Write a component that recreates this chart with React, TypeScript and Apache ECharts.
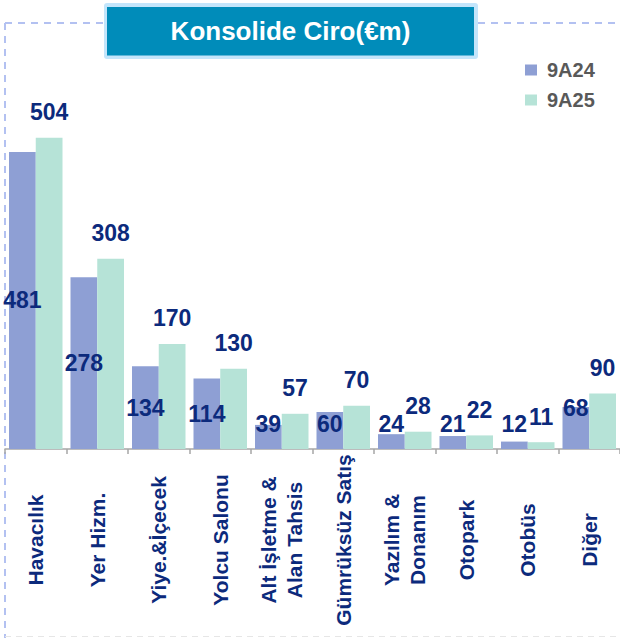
import React, { useEffect, useRef } from "react";
import * as echarts from "echarts";

const categories = [
  "Havacılık",
  "Yer Hizm.",
  "Yiye.&İçecek",
  "Yolcu Salonu",
  "Alt İşletme &\nAlan Tahsis",
  "Gümrüksüz Satış",
  "Yazılım &\nDonanım",
  "Otopark",
  "Otobüs",
  "Diğer",
];
const seriesNames = ["9A24", "9A25"];
const values9A24 = [481, 278, 134, 114, 39, 60, 24, 21, 12, 68];
const values9A25 = [504, 308, 170, 130, 57, 70, 28, 22, 11, 90];
const titleText = "Konsolide Ciro(€m)";

const raisedLabelCategories = ["Diğer"];

const NAVY = "#0c2a7c";
const BLUE = "#8e9fd4";
const GREEN = "#b6e3d7";
const FONT = "'Liberation Sans', Arial, sans-serif";

export default function App() {
  const ref = useRef<HTMLDivElement>(null);

  useEffect(() => {
    if (!ref.current) return;
    const chart = echarts.init(ref.current, undefined, { renderer: "svg" });
    const yMax = 600;
    const gridTop = 78.4;
    const gridBottom = 189;
    const plotH = 638 - gridTop - gridBottom;
    const pxPerUnit = plotH / yMax;

    const blueData = values9A24.map((v, i) => {
      const cat = categories[i];
      let label: any;
      if (raisedLabelCategories.includes(cat)) {
        label = { position: "insideTop", distance: -10 };
      } else if ((v * pxPerUnit) / 2 > 25) {
        label = { position: "inside" };
      } else {
        label = { position: "insideBottom", distance: 14 };
      }
      return { value: v, label };
    });

    const dash = { stroke: "#b3c1f1", lineWidth: 2, lineDash: [7, 6] };

    chart.setOption({
      animation: false,
      backgroundColor: "#ffffff",
      grid: { left: 5, right: -5, top: gridTop, bottom: gridBottom, containLabel: false },
      legend: {
        data: seriesNames,
        orient: "vertical",
        left: 520,
        top: 55,
        itemWidth: 12,
        itemHeight: 11,
        itemGap: 10,
        icon: "rect",
        textStyle: {
          fontFamily: FONT,
          fontSize: 20,
          fontWeight: "bold",
          color: "#595959",
          padding: [0, 0, 0, 5],
        },
      },
      xAxis: {
        type: "category",
        data: categories,
        boundaryGap: true,
        axisLine: { show: true, lineStyle: { color: "#a6a6a6", width: 1.5 } },
        axisTick: { show: true, length: 5, alignWithLabel: false, lineStyle: { color: "#a6a6a6", width: 1.5 } },
        axisLabel: {
          interval: 0,
          rotate: 90,
          margin: 91,
          align: "center",
          verticalAlign: "middle",
          fontFamily: FONT,
          fontSize: 21,
          fontWeight: "bold",
          color: NAVY,
          lineHeight: 26,
        },
      },
      yAxis: {
        type: "value",
        min: 0,
        max: yMax,
        show: false,
        splitLine: { show: false },
      },
      series: [
        {
          name: seriesNames[0],
          type: "bar",
          data: blueData,
          barGap: "0%",
          barCategoryGap: "13%",
          itemStyle: { color: BLUE },
          label: {
            show: true,
            fontFamily: FONT,
            fontSize: 23,
            fontWeight: "bold",
            color: NAVY,
          },
        },
        {
          name: seriesNames[1],
          type: "bar",
          data: values9A25,
          barGap: "0%",
          barCategoryGap: "13%",
          itemStyle: { color: GREEN },
          label: {
            show: true,
            position: "top",
            distance: 14,
            fontFamily: FONT,
            fontSize: 23,
            fontWeight: "bold",
            color: NAVY,
          },
        },
      ],
      graphic: [
        { type: "line", shape: { x1: 5, y1: 23, x2: 104, y2: 23 }, style: dash, silent: true },
        { type: "line", shape: { x1: 478, y1: 23, x2: 620, y2: 23 }, style: dash, silent: true },
        { type: "line", shape: { x1: 5, y1: 23, x2: 5, y2: 638 }, style: dash, silent: true },
        {
          type: "line",
          shape: { x1: 5, y1: 636.5, x2: 620, y2: 636.5 },
          style: { stroke: "#e6e6e6", lineWidth: 1, lineDash: [6, 5] },
          silent: true,
        },
        {
          type: "rect",
          shape: { x: 104, y: 3, width: 374, height: 56, r: 3 },
          style: { fill: "#c3e5fb" },
          silent: true,
        },
        {
          type: "rect",
          shape: { x: 107, y: 7, width: 367, height: 48.5 },
          style: { fill: "#008cba" },
          silent: true,
        },
        {
          type: "text",
          x: 290.5,
          y: 30.5,
          style: {
            text: titleText,
            fill: "#ffffff",
            font: "bold 26px 'Liberation Sans', Arial, sans-serif",
            align: "center",
            verticalAlign: "middle",
          },
          silent: true,
        },
      ],
    });

    return () => chart.dispose();
  }, []);

  return (
    <div
      ref={ref}
      style={{ position: "fixed", left: 0, top: 0, width: 620, height: 638, background: "#fff" }}
    />
  );
}
